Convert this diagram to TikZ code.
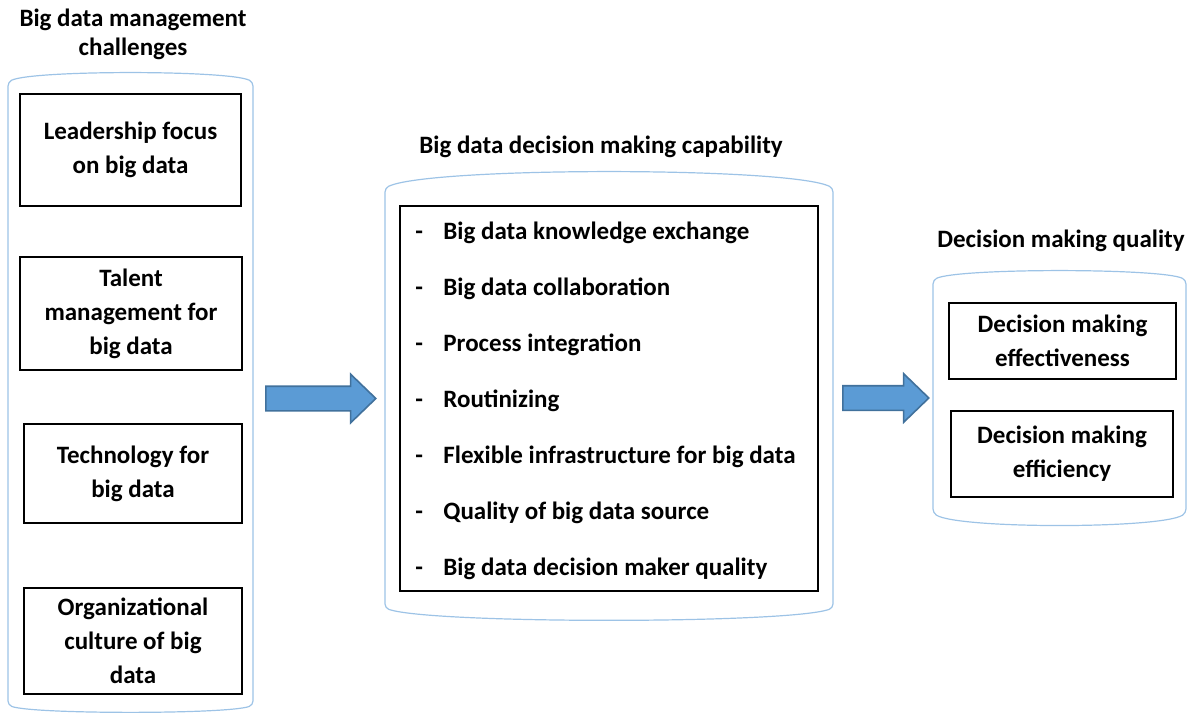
\documentclass[tikz,border=0pt]{standalone}
\usepackage{fontspec}
\setmainfont{Carlito}
\usetikzlibrary{shapes.arrows}

\definecolor{hullblue}{HTML}{9DC3E6}
\definecolor{arrowfill}{HTML}{5B9BD5}
\definecolor{arrowedge}{HTML}{41719C}

% container with bulging top and bottom: x1, x2, top corner, bottom corner, top bulge, bottom bulge
\newcommand{\drawhull}[6]{%
  \draw[hull] (#1,#3) .. controls ({#1+0.1*(#2-#1)},{#3-#5/0.75}) and ({#2-0.1*(#2-#1)},{#3-#5/0.75}) .. (#2,#3)
    -- (#2,#4) .. controls ({#2-0.1*(#2-#1)},{#4+#6/0.75}) and ({#1+0.1*(#2-#1)},{#4+#6/0.75}) .. (#1,#4) -- cycle;}

\begin{document}
\begin{tikzpicture}[x=0.5pt, y=-0.5pt,
    hull/.style={draw=hullblue, line width=0.6pt, rounded corners=2pt},
    factor/.style={draw=black, line width=1pt, align=center, inner sep=0pt,
      font=\bfseries\fontsize{12.5}{17}\selectfont},
    heading/.style={align=center, font=\bfseries\fontsize{12.5}{14.5}\selectfont},
    itemtext/.style={anchor=base west, inner sep=0pt, font=\bfseries\fontsize{12.5}{14}\selectfont},
    flow/.style={single arrow, draw=arrowedge, fill=arrowfill, line width=0.8pt, anchor=tail,
      single arrow head extend=6pt, single arrow tip angle=88, inner sep=5.75pt},
    ]
    \useasboundingbox (0,0) rectangle (1195,713);

    %Containers
    \drawhull{8}{253}{82}{705}{9}{7}
    \drawhull{385}{833}{188}{608}{16}{12}
    \drawhull{933}{1186}{280}{513}{9}{12}

    %Headings
    \node[heading] (challenges) at (133,34) {Big data management\\challenges};
    \node[heading] (capability) at (601,147) {Big data decision making capability};
    \node[heading] (quality) at (1061,241) {Decision making quality};

    %Challenges
    \node[factor, minimum width=110.5pt, minimum height=56pt] (leadership) at (130.5,150) {Leadership focus\\on big data};
    \node[factor, minimum width=111pt, minimum height=56.5pt] (talent) at (131,313.5) {Talent\\management for\\big data};
    \node[factor, minimum width=109pt, minimum height=49.5pt] (technology) at (133,473.5) {Technology for\\big data};
    \node[factor, minimum width=109pt, minimum height=53pt] (culture) at (133,641) {Organizational\\culture of big\\data};

    %Capability
    \node[factor, minimum width=209pt, minimum height=192.5pt] (capbox) at (609,398.5) {};
    \foreach \txt [count=\i] in {Big data knowledge exchange, Big data collaboration,
        Process integration, Routinizing, Flexible infrastructure for big data,
        Quality of big data source, Big data decision maker quality} {
      \node[itemtext] (dash\i) at (415,{239+56*(\i-1)}) {-};
      \node[itemtext] (item\i) at (443,{239+56*(\i-1)}) {\txt};
    }

    %Quality
    \node[factor, minimum width=113.5pt, minimum height=38pt] (effectiveness) at (1062.5,341) {Decision making\\effectiveness};
    \node[factor, minimum width=111pt, minimum height=43pt] (efficiency) at (1062,454) {Decision making\\efficiency};

    %Arrows
    \node[flow, minimum height=55pt] (toCapability) at (265,398.5) {};
    \node[flow, minimum height=43pt] (toQuality) at (842,398) {};
\end{tikzpicture}
\end{document}
